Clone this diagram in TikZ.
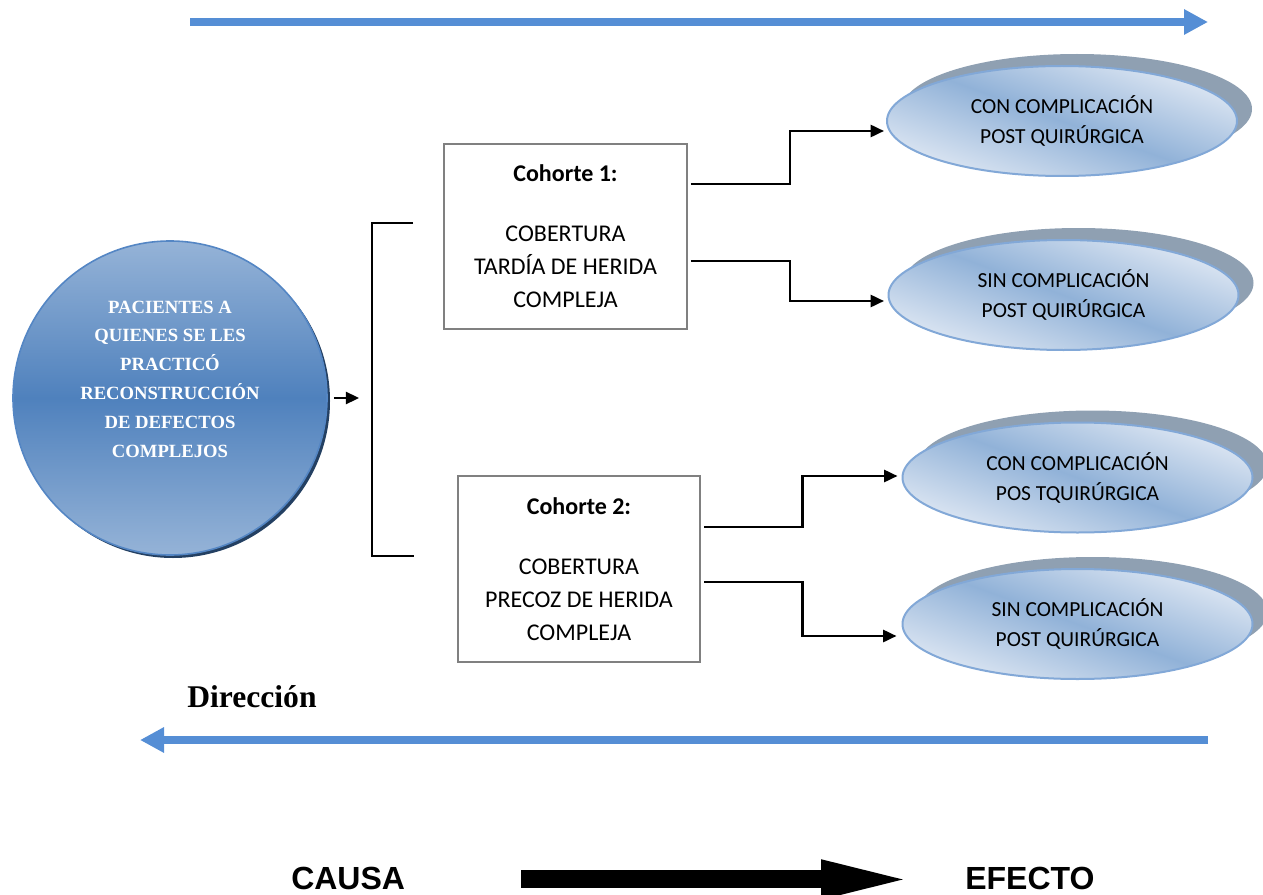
\documentclass[tikz,border=0pt]{standalone}
\usepackage{fontspec}
\setmainfont{Carlito}
\newfontfamily\tnr{Liberation Serif}
\newfontfamily\arl{Liberation Sans}
\usetikzlibrary{arrows.meta,calc,shapes.geometric,shadows}

\definecolor{bluearrow}{RGB}{85,142,213}
\definecolor{cdark}{RGB}{79,129,189}
\definecolor{clight}{RGB}{149,179,215}
\definecolor{cshadow}{RGB}{36,64,98}
\definecolor{cring}{RGB}{84,134,196}
\definecolor{elight}{RGB}{222,231,243}
\definecolor{emid}{RGB}{145,178,216}
\definecolor{eline}{RGB}{130,168,215}
\definecolor{egray}{RGB}{143,160,178}
\definecolor{boxline}{RGB}{128,128,128}

\begin{document}
\begin{tikzpicture}[x=0.75pt,y=-0.75pt,
  bluearr/.style={draw=bluearrow, line width=5.6pt, -{Triangle[length=18pt,width=18pt]}},
  flow/.style={draw=black, line width=1.9pt, -{Triangle[length=10pt,width=9pt]}},
  bracket/.style={draw=black, line width=1.1pt},
  bigarrow/.style={draw=black, line width=13.5pt, -{Triangle[length=72pt,width=25.5pt]}},
  cohorte/.style={draw=boxline, line width=1.5pt, rectangle, minimum width=182pt, minimum height=139pt,
    align=center, inner sep=0pt, font=\fontsize{18pt}{24.75pt}\selectfont},
  resultado/.style={ellipse, draw=eline, line width=1.5pt, minimum width=262.5pt, minimum height=82.5pt,
    top color=elight, bottom color=elight, middle color=emid, shading angle=-20,
    general shadow={shadow xshift=11.25pt, shadow yshift=9pt, fill=egray},
    align=center, inner sep=0pt, font=\fontsize{16.1pt}{22.5pt}\selectfont},
  paciente/.style={circle, draw=cring, line width=1.2pt, minimum size=235.5pt, inner sep=0pt,
    top color=clight, bottom color=clight, middle color=cdark,
    general shadow={shadow xshift=2.25pt, shadow yshift=-2.25pt, fill=cshadow}},
]
\useasboundingbox (0,0) rectangle (1263,895);

% top and bottom direction arrows
\coordinate (ta1) at (190,22);
\coordinate (ta2) at (1208,22);
\draw[bluearr] (ta1) -- (ta2);
\coordinate (ba1) at (1208,740);
\coordinate (ba2) at (140,740);
\draw[bluearr] (ba1) -- (ba2);

% patients circle
\node[paciente] (pac) at (170,398) {};
\node[text=white, align=center, inner sep=0pt,
  font=\tnr\bfseries\fontsize{14pt}{21.6pt}\selectfont] (pactxt) at (170,379)
  {PACIENTES A\\QUIENES SE LES\\PRACTICÓ\\RECONSTRUCCIÓN\\DE DEFECTOS\\COMPLEJOS};

% cohort boxes
\node[cohorte] (b1) at (565.5,236.5)
  {\textbf{Cohorte 1:}\\[20.25pt]COBERTURA\\TARDÍA DE HERIDA\\COMPLEJA};
\node[cohorte] (b2) at (579,569)
  {\textbf{Cohorte 2:}\\[20.25pt]COBERTURA\\PRECOZ DE HERIDA\\COMPLEJA};

% outcome ellipses
\node[resultado] (e1) at (1062,121) {CON COMPLICACIÓN\\POST QUIRÚRGICA};
\node[resultado] (e2) at (1063.5,295) {SIN COMPLICACIÓN\\POST QUIRÚRGICA};
\node[resultado] (e3) at (1077.5,477.5) {CON COMPLICACIÓN\\POS TQUIRÚRGICA};
\node[resultado] (e4) at (1077.5,624) {SIN COMPLICACIÓN\\POST QUIRÚRGICA};

% bracket
\draw[bracket] ($(b1.west)+(-30,-13.5)$) -- ++(-41,0) coordinate (bt)
  |- ($(b2.west)+(-43,-13)$) coordinate (bb);
\draw[flow] ($(pac.east)+(6,0)$) -- ($(bt |- pac.east)+(-13,0)$);

% connectors to ellipses
\draw[flow] ($(b1.east)+(3,-52.5)$) -- ++(99,0) |- ($(e1.west)+(-2,10)$);
\draw[flow] ($(b1.east)+(3,24.5)$) -- ++(99,0) |- ($(e2.west)+(-3.5,6)$);
\draw[flow] ($(b2.east)+(3,-42)$) -- ++(98,0) |- ($(e3.west)+(-4,-1.5)$);
\draw[flow] ($(b2.east)+(3,13)$) -- ++(98,0) |- ($(e4.west)+(-5,12)$);

% labels
\node[anchor=base west, inner sep=0pt, font=\tnr\bfseries\fontsize{23.7pt}{28pt}\selectfont] (dir) at (187,707) {Dirección};
\node[anchor=base west, inner sep=0pt, font=\arl\bfseries\fontsize{24pt}{28pt}\selectfont] (causa) at (291,889) {CAUSA};
\node[anchor=base west, inner sep=0pt, font=\arl\bfseries\fontsize{24pt}{28pt}\selectfont] (efecto) at (965,889) {EFECTO};
\draw[bigarrow] ($(causa.east)+(116,1.5)$) -- ($(efecto.west)+(-48,1.5)$);
\end{tikzpicture}
\end{document}
